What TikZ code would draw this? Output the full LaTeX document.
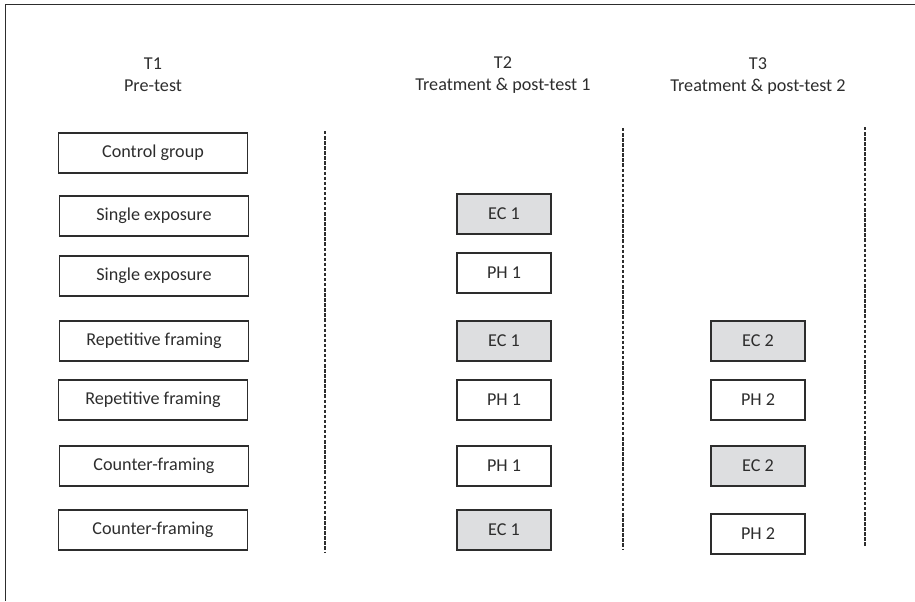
\documentclass[tikz,border=0pt]{standalone}
\usepackage{fontspec}
\setmainfont{Carlito}
\definecolor{boxgray}{RGB}{221,222,224}
\definecolor{inkgray}{RGB}{45,45,45}

\begin{document}
\begin{tikzpicture}[x=0.75pt, y=-0.75pt,
        every node/.style={font=\fontsize{13.6}{16.5}\selectfont, text=inkgray},
        group/.style={draw=inkgray, line width=0.8pt, minimum width=142pt, minimum height=30pt, inner sep=0pt},
        test/.style={draw=inkgray, line width=0.8pt, minimum width=70.5pt, minimum height=30pt, inner sep=0pt},
        ec/.style={test, fill=boxgray},
        ph/.style={test, fill=white},
        phase/.style={align=center},
        divider/.style={draw=inkgray, line width=0.8pt, dash pattern=on 2.6pt off 1.2pt}]
        \useasboundingbox (0,0) rectangle (915,601);

        % Frame
        \draw[inkgray, line width=1pt] (5.5,601) -- (5.5,4.5) -- (915,4.5);

        % Phases
        \node[phase] (t1) at (153,75) {T1\\Pre-test};
        \node[phase] (t2) at (503,75) {T2\\Treatment \& post-test 1};
        \node[phase] (t3) at (758,76) {T3\\Treatment \& post-test 2};

        % Groups
        \node[group] (g1) at (153,153) {Control group};
        \node[group] (g2) at (154,216) {Single exposure};
        \node[group] (g3) at (154,276) {Single exposure};
        \node[group] (g4) at (154,341) {Repetitive framing};
        \node[group] (g5) at (153,400) {Repetitive framing};
        \node[group] (g6) at (154,466) {Counter-framing};
        \node[group] (g7) at (153,530) {Counter-framing};

        % Post-test 1
        \node[ec] (a2) at (504,214) {EC 1};
        \node[ph] (a3) at (504,273) {PH 1};
        \node[ec] (a4) at (504,341) {EC 1};
        \node[ph] (a5) at (504,400) {PH 1};
        \node[ph] (a6) at (504,466) {PH 1};
        \node[ec] (a7) at (504,530) {EC 1};

        % Post-test 2
        \node[ec] (b4) at (758,341) {EC 2};
        \node[ph] (b5) at (758,400) {PH 2};
        \node[ec] (b6) at (758,466) {EC 2};
        \node[ph] (b7) at (758,534) {PH 2};

        % Dividers
        \coordinate (d1top) at (325,131);
        \coordinate (d1bot) at (325,553);
        \coordinate (d2top) at (623,128);
        \coordinate (d2bot) at (623,549);
        \coordinate (d3top) at (865,127);
        \coordinate (d3bot) at (865,547);
        \draw[divider] (d1top) -- (d1bot);
        \draw[divider] (d2top) -- (d2bot);
        \draw[divider] (d3top) -- (d3bot);
    \end{tikzpicture}
\end{document}
